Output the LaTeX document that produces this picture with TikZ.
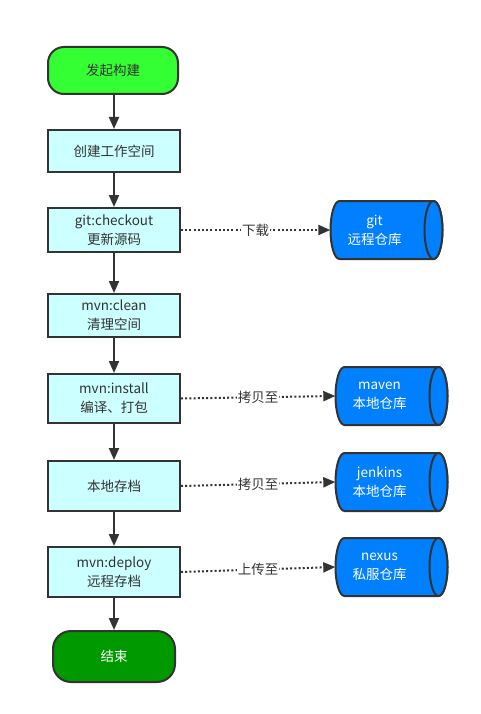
\documentclass[tikz,border=0pt]{standalone}
\usepackage{fontspec}
\newfontfamily\cjk{Noto Sans CJK SC}
\usetikzlibrary{arrows.meta}
\definecolor{edge}{HTML}{333333}
\definecolor{startc}{HTML}{33FF33}
\definecolor{endc}{HTML}{009900}
\definecolor{boxc}{HTML}{CCFFFF}
\definecolor{repoc}{HTML}{007FFF}
\tikzset{
  txt/.style={font=\cjk\fontsize{13.5}{19}\selectfont, align=center, text=edge},
  term/.style={txt, draw=edge, line width=2pt, rounded corners=16pt, minimum width=130pt},
  stepbox/.style={txt, draw=edge, line width=2pt, fill=boxc, minimum width=132pt},
  cyl/.style={draw=edge, line width=2pt, fill=repoc},
  flow/.style={draw=edge, line width=2pt, -{Triangle[length=12pt,width=10pt]}},
  copyto/.style={draw=edge, line width=2pt, dash pattern=on 2pt off 2.2pt, -{Triangle[length=12pt,width=10pt]}},
  lab/.style={txt, fill=white, inner sep=1pt},
}
\newcommand\repo[4]{%
  \begin{scope}[shift={(#2,#3)}]
    \draw[cyl] (47,-29) -- (-47,-29) arc[start angle=270, end angle=90, x radius=9, y radius=29]
      -- (47,29) arc[start angle=90, end angle=-90, x radius=9, y radius=29] -- cycle;
    \draw[cyl] (47,0) ellipse [x radius=9, y radius=29];
    \node[minimum width=112pt, minimum height=58pt, inner sep=0pt] (#1) at (0,0) {};
    \node[txt, text=white] at (-12,0) {#4};
  \end{scope}}
\begin{document}
\begin{tikzpicture}[x=1pt, y=-1pt]
\useasboundingbox (0,0) rectangle (480,714);
\node[term, fill=startc, minimum height=47pt] (start) at (113,70.5) {发起构建};
\node[stepbox, minimum height=42pt] (b1) at (114,151) {创建工作空间};
\node[stepbox, minimum height=44pt] (b2) at (114,230) {git:checkout\\更新源码};
\node[stepbox, minimum height=43pt] (b3) at (114,315.5) {mvn:clean\\清理空间};
\node[stepbox, minimum height=49pt] (b4) at (114,398.5) {mvn:install\\编译、打包};
\node[stepbox, minimum height=50pt] (b5) at (114,486) {本地存档};
\node[stepbox, minimum height=50pt] (b6) at (114,572) {mvn:deploy\\远程存档};
\node[term, fill=endc, text=white, minimum width=122pt, minimum height=51pt, rounded corners=18pt] (stop) at (114,656.5) {结束};

\repo{git}{386.5}{230}{git\\远程仓库}
\repo{maven}{391.5}{396}{maven\\本地仓库}
\repo{jenkins}{391.5}{482}{jenkins\\本地仓库}
\repo{nexus}{391.5}{567}{nexus\\私服仓库}

\draw[flow] (start.south -| b1.north) -- (b1.north);
\draw[flow] (b1) -- (b2);
\draw[flow] (b2) -- (b3);
\draw[flow] (b3) -- (b4);
\draw[flow] (b4) -- (b5);
\draw[flow] (b5) -- (b6);
\draw[flow] (b6) -- (stop);

\draw[copyto] (b2.east) -- node[lab] {下载} (git.west);
\draw[copyto] (b4.east) -- node[lab] {拷贝至} (maven.west);
\draw[copyto] (b5.east) -- node[lab] {拷贝至} (jenkins.west);
\draw[copyto] (b6.east) -- node[lab] {上传至} (nexus.west);
\end{tikzpicture}
\end{document}
